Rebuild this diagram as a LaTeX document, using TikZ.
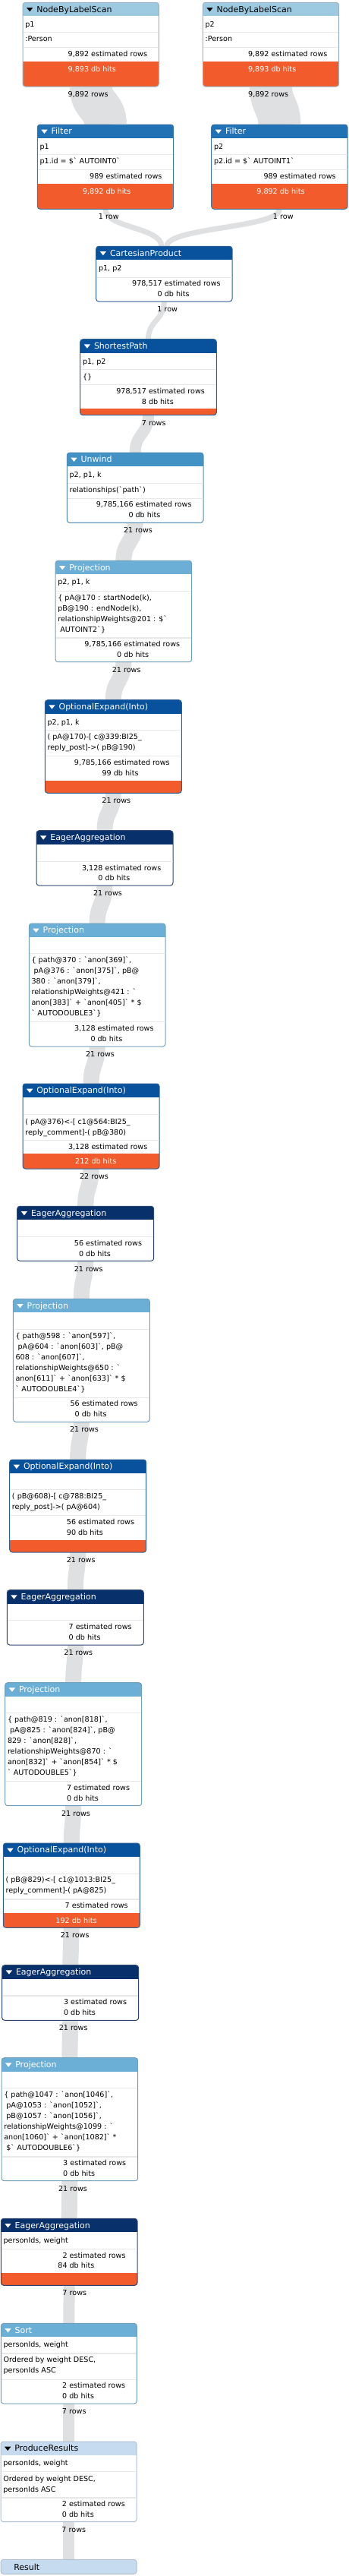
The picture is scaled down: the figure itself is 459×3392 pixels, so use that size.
\documentclass[tikz,border=0pt]{standalone}
\usepackage{fontspec}
\newfontfamily\dvs{DejaVu Sans}
\pgfdeclarelayer{back}
\pgfdeclarelayer{bands}
\pgfsetlayers{back,bands,main}
\definecolor{cNBLS}{HTML}{9ECAE1}
\definecolor{cFilter}{HTML}{2171B5}
\definecolor{cDark}{HTML}{08519C}
\definecolor{cUnwind}{HTML}{4292C6}
\definecolor{cProj}{HTML}{6BAED6}
\definecolor{cEager}{HTML}{08306B}
\definecolor{cLight}{HTML}{C6DBEF}
\definecolor{cCost}{RGB}{242,92,44}
\definecolor{cBand}{RGB}{223,224,226}
\definecolor{cDiv}{RGB}{232,232,232}
\newcommand\bq{\symbol{96}}
\tikzset{
  txt/.style={font=\dvs\fontsize{9.6}{14}\selectfont, inner sep=0pt, outer sep=0pt, text=black},
  ttl/.style={font=\dvs\fontsize{11}{13}\selectfont, inner sep=0pt, outer sep=0pt},
  frame/.style={line width=1pt, rounded corners=3.5pt, inner sep=0pt, outer sep=0pt, anchor=north west},
  divline/.style={draw=cDiv, line width=1.3pt},
  bandst/.style={draw=cBand, line cap=butt},
}
% \opbox{name}{L}{T}{R}{B}{color}{title}{titlecolor}{costtop}
\newcommand\opbox[9]{%
  \begin{scope}
    \clip[rounded corners=3.5pt] (#2,#3) rectangle (#4,#5);
    \fill[white] (#2,#3) rectangle (#4,#5);
    \fill[#6] (#2,#3) rectangle (#4,#3+18);
    \if\relax\detokenize{#9}\relax\else\fill[cCost] (#2,#9) rectangle (#4,#5);\fi
  \end{scope}
  \node[frame, draw=#6!70!gray, minimum width={#4-#2}, minimum height={#5-#3}] (#1) at (#2,#3) {};
  \fill[#8] (#2+5,#3+6.7) -- (#2+13.3,#3+6.7) -- (#2+9.2,#3+12) -- cycle;
  \node[ttl, text=#8, anchor=base west] (#1-title) at (#2+18.3,#3+12.8) {#7};
}
\newcommand\dv[3]{\draw[divline] (#1+0.5,#3) -- (#2-0.5,#3);}
\newcommand\tl[4]{\node[txt, anchor=base west] (#1) at (#2+3.3,#3+3.4) {#4};}
% \st{name}{L}{R}{y}{num}{label}{color}
\newcommand\st[7]{%
  \node[txt, text=#7, anchor=base east] (#1-n) at ({(#2+#3)/2-2.5},{#4+3.4}) {#5};
  \node[txt, text=#7, anchor=base west] (#1-l) at ({(#2+#3)/2+0.5},{#4+3.4}) {#6};
}
\newcommand\rl[4]{\node[txt, anchor=base] (#1) at (#2,#3+3.4) {#4};}
\newcommand\band[5]{\draw[bandst, line width=#5] ([xshift=#2]#1.south) .. controls +(0,25) and +(0,-25) .. ([xshift=#4]#3.north);}
\begin{document}
\begin{tikzpicture}[x=1pt,y=-1pt]
\useasboundingbox (0,0) rectangle (459,3392);
\begin{pgfonlayer}{back}
\fill[white] (0,0) rectangle (459,3392);
\end{pgfonlayer}

% A
\opbox{A}{30}{3.3}{209.3}{114}{cNBLS}{NodeByLabelScan}{black}{81}
\dv{30}{209.3}{42.7}\dv{30}{209.3}{62.7}
\tl{A1}{30}{31.7}{p1}
\tl{A2}{30}{51.3}{:Person}
\st{As}{30}{209.3}{71.3}{9,892}{estimated rows}{black}
\st{Ad}{30}{209.3}{91}{9,893}{db hits}{white}
% B
\opbox{B}{267.3}{3.3}{446.7}{114}{cNBLS}{NodeByLabelScan}{black}{81}
\dv{267.3}{446.7}{42.7}\dv{267.3}{446.7}{62.7}
\tl{B1}{267.3}{31.7}{p2}
\tl{B2}{267.3}{51.3}{:Person}
\st{Bs}{267.3}{446.7}{71.3}{9,892}{estimated rows}{black}
\st{Bd}{267.3}{446.7}{91}{9,893}{db hits}{white}
\rl{lAC}{116.2}{124}{9,892 rows}
\rl{lBD}{353.7}{124}{9,892 rows}
% C
\opbox{C}{49.3}{164}{228.7}{275.3}{cFilter}{Filter}{white}{242}
\dv{49.3}{228.7}{203.3}\dv{49.3}{228.7}{223.3}
\tl{C1}{49.3}{192.7}{p1}
\tl{C2}{49.3}{212}{p1.id = \$\bq{} AUTOINT0\bq}
\st{Cs}{49.3}{228.7}{232}{989}{estimated rows}{black}
\st{Cd}{49.3}{228.7}{252}{9,892}{db hits}{white}
% D
\opbox{D}{278.7}{164}{458}{275.3}{cFilter}{Filter}{white}{242}
\dv{278.7}{458}{203.3}\dv{278.7}{458}{223.3}
\tl{D1}{278.7}{192.7}{p2}
\tl{D2}{278.7}{212}{p2.id = \$\bq{} AUTOINT1\bq}
\st{Ds}{278.7}{458}{232}{989}{estimated rows}{black}
\st{Dd}{278.7}{458}{252}{9,892}{db hits}{white}
\rl{lCE}{143.3}{285.3}{1 row}
\rl{lDE}{373.3}{285.3}{1 row}
% E
\opbox{E}{126.7}{324.3}{306}{397}{cDark}{CartesianProduct}{white}{}
\dv{126.7}{306}{365.3}
\tl{E1}{126.7}{353.3}{p1, p2}
\st{Es}{126.7}{306}{373.3}{978,517}{estimated rows}{black}
\st{Ed}{126.7}{306}{387}{0}{db hits}{black}
\rl{lEF}{220.7}{407.3}{1 row}
% F
\opbox{F}{105.7}{446.7}{285.3}{546.7}{cDark}{ShortestPath}{white}{538.3}
\dv{105.7}{285.3}{486.7}\dv{105.7}{285.3}{506.7}
\tl{F1}{105.7}{475.7}{p1, p2}
\tl{F2}{105.7}{495.7}{\{\}}
\st{Fs}{105.7}{285.3}{515}{978,517}{estimated rows}{black}
\st{Fd}{105.7}{285.3}{529.3}{8}{db hits}{black}
\rl{lFG}{202.7}{557.3}{7 rows}
% G
\opbox{G}{88.3}{596}{268}{688.3}{cUnwind}{Unwind}{white}{}
\dv{88.3}{268}{636.3}\dv{88.3}{268}{656.3}
\tl{G1}{88.3}{625.3}{p2, p1, k}
\tl{G2}{88.3}{645.3}{relationships(\bq path\bq)}
\st{Gs}{88.3}{268}{664.3}{9,785,166}{estimated rows}{black}
\st{Gd}{88.3}{268}{678.3}{0}{db hits}{black}
\rl{lGH}{182}{698.3}{21 rows}
% H
\opbox{H}{73}{738.3}{252.7}{871.7}{cProj}{Projection}{white}{}
\dv{73}{252.7}{778.3}\dv{73}{252.7}{840}
\tl{H1}{73}{766.3}{p2, p1, k}
\tl{H2}{73}{786.7}{\{ pA@170 : startNode(k),}
\tl{H3}{73}{800.7}{pB@190 : endNode(k),}
\tl{H4}{73}{814.7}{relationshipWeights@201 : \$\bq}
\tl{H5}{73}{828.7}{\ AUTOINT2\bq\}}
\st{Hs}{73}{252.7}{848.3}{9,785,166}{estimated rows}{black}
\st{Hd}{73}{252.7}{862.3}{0}{db hits}{black}
\rl{lHI}{166.7}{882.3}{21 rows}
% I
\opbox{I}{59.3}{921.7}{239.3}{1044.3}{cDark}{OptionalExpand(Into)}{white}{1027.7}
\dv{59.3}{239.3}{961.7}\dv{59.3}{239.3}{995.7}
\tl{I1}{59.3}{950.7}{p2, p1, k}
\tl{I2}{59.3}{970.3}{( pA@170)-[ c@339:BI25\_}
\tl{I3}{59.3}{984.3}{reply\_post]->( pB@190)}
\st{Is}{59.3}{239.3}{1004}{9,785,166}{estimated rows}{black}
\st{Id}{59.3}{239.3}{1018.3}{99}{db hits}{black}
\rl{lIJ}{153.3}{1054.3}{21 rows}
% J
\opbox{J}{48}{1093.7}{228}{1166}{cEager}{EagerAggregation}{white}{}
\dv{48}{228}{1134.3}
\st{Js}{48}{228}{1142.7}{3,128}{estimated rows}{black}
\st{Jd}{48}{228}{1156.3}{0}{db hits}{black}
\rl{lJK}{142}{1176.3}{21 rows}
% K
\opbox{K}{38.3}{1216}{218}{1378}{cProj}{Projection}{white}{}
\dv{38.3}{218}{1255.7}\dv{38.3}{218}{1345.7}
\tl{K1}{38.3}{1264.3}{\{ path@370 : \bq anon[369]\bq,}
\tl{K2}{38.3}{1278.3}{\ pA@376 : \bq anon[375]\bq, pB@}
\tl{K3}{38.3}{1292.3}{380 : \bq anon[379]\bq,}
\tl{K4}{38.3}{1306.3}{relationshipWeights@421 : \bq}
\tl{K5}{38.3}{1320.3}{anon[383]\bq{} + \bq anon[405]\bq{} * \$}
\tl{K6}{38.3}{1334.3}{\bq{} AUTODOUBLE3\bq\}}
\st{Ks}{38.3}{218}{1354}{3,128}{estimated rows}{black}
\st{Kd}{38.3}{218}{1368.3}{0}{db hits}{black}
\rl{lKL}{132}{1388.3}{21 rows}
% L
\opbox{L}{30}{1427}{210}{1539}{cDark}{OptionalExpand(Into)}{white}{1519.3}
\dv{30}{210}{1467.3}\dv{30}{210}{1501.7}
\tl{L1}{30}{1477}{( pA@376)<-[ c1@564:BI25\_}
\tl{L2}{30}{1491}{reply\_comment]-( pB@380)}
\st{Ls}{30}{210}{1510.3}{3,128}{estimated rows}{black}
\st{Ld}{30}{210}{1529.3}{212}{db hits}{white}
\rl{lLM}{124}{1549.3}{22 rows}
% M
\opbox{M}{22.7}{1588.3}{202.7}{1660.3}{cEager}{EagerAggregation}{white}{}
\dv{22.7}{202.7}{1628.3}
\st{Ms}{22.7}{202.7}{1637.3}{56}{estimated rows}{black}
\st{Md}{22.7}{202.7}{1651.3}{0}{db hits}{black}
\rl{lMN}{116.7}{1671.3}{21 rows}
% N
\opbox{N}{17.3}{1710.3}{197.3}{1872.3}{cProj}{Projection}{white}{}
\dv{17.3}{197.3}{1750.7}\dv{17.3}{197.3}{1840.7}
\tl{N1}{17.3}{1758.7}{\{ path@598 : \bq anon[597]\bq,}
\tl{N2}{17.3}{1772.7}{\ pA@604 : \bq anon[603]\bq, pB@}
\tl{N3}{17.3}{1786.7}{608 : \bq anon[607]\bq,}
\tl{N4}{17.3}{1800.7}{relationshipWeights@650 : \bq}
\tl{N5}{17.3}{1814.7}{anon[611]\bq{} + \bq anon[633]\bq{} * \$}
\tl{N6}{17.3}{1828.7}{\bq{} AUTODOUBLE4\bq\}}
\st{Ns}{17.3}{197.3}{1848}{56}{estimated rows}{black}
\st{Nd}{17.3}{197.3}{1862.3}{0}{db hits}{black}
\rl{lNO}{111}{1882.3}{21 rows}
% O
\opbox{O}{12.7}{1922}{192.7}{2044}{cDark}{OptionalExpand(Into)}{white}{2028}
\dv{12.7}{192.7}{1961.7}\dv{12.7}{192.7}{1995.7}
\tl{O1}{12.7}{1970.3}{( pB@608)-[ c@788:BI25\_}
\tl{O2}{12.7}{1984.3}{reply\_post]->( pA@604)}
\st{Os}{12.7}{192.7}{2004}{56}{estimated rows}{black}
\st{Od}{12.7}{192.7}{2018.3}{90}{db hits}{black}
\rl{lOP}{106.7}{2054.3}{21 rows}
% P
\opbox{P}{9.3}{2093.7}{189.3}{2166}{cEager}{EagerAggregation}{white}{}
\dv{9.3}{189.3}{2133.7}
\st{Ps}{9.3}{189.3}{2142.3}{7}{estimated rows}{black}
\st{Pd}{9.3}{189.3}{2156.3}{0}{db hits}{black}
\rl{lPQ}{103.3}{2176.3}{21 rows}
% Q
\opbox{Q}{6.7}{2215.7}{186.7}{2377.7}{cProj}{Projection}{white}{}
\dv{6.7}{186.7}{2255.3}\dv{6.7}{186.7}{2345.3}
\tl{Q1}{6.7}{2263.7}{\{ path@819 : \bq anon[818]\bq,}
\tl{Q2}{6.7}{2277.7}{\ pA@825 : \bq anon[824]\bq, pB@}
\tl{Q3}{6.7}{2291.7}{829 : \bq anon[828]\bq,}
\tl{Q4}{6.7}{2305.7}{relationshipWeights@870 : \bq}
\tl{Q5}{6.7}{2319.7}{anon[832]\bq{} + \bq anon[854]\bq{} * \$}
\tl{Q6}{6.7}{2333.7}{\bq{} AUTODOUBLE5\bq\}}
\st{Qs}{6.7}{186.7}{2354}{7}{estimated rows}{black}
\st{Qd}{6.7}{186.7}{2368.3}{0}{db hits}{black}
\rl{lQR}{100}{2388.3}{21 rows}
% R
\opbox{R}{4.3}{2427}{184.3}{2538.3}{cDark}{OptionalExpand(Into)}{white}{2519.3}
\dv{4.3}{184.3}{2467.3}\dv{4.3}{184.3}{2501}
\tl{R1}{4.3}{2475.3}{( pB@829)<-[ c1@1013:BI25\_}
\tl{R2}{4.3}{2489.3}{reply\_comment]-( pA@825)}
\st{Rs}{4.3}{184.3}{2509.3}{7}{estimated rows}{black}
\st{Rd}{4.3}{184.3}{2529.3}{192}{db hits}{white}
\rl{lRS}{98.7}{2548.3}{21 rows}
% S
\opbox{S}{2.7}{2587.7}{182.7}{2660.3}{cEager}{EagerAggregation}{white}{}
\dv{2.7}{182.7}{2628}
\st{Ss}{2.7}{182.7}{2636.3}{3}{estimated rows}{black}
\st{Sd}{2.7}{182.7}{2650.3}{0}{db hits}{black}
\rl{lST}{96.7}{2670.3}{21 rows}
% T
\opbox{T}{2}{2709.7}{181.7}{2871.7}{cProj}{Projection}{white}{}
\dv{2}{181.7}{2749.3}\dv{2}{181.7}{2840}
\tl{T1}{2}{2758.3}{\{ path@1047 : \bq anon[1046]\bq,}
\tl{T2}{2}{2772.3}{\ pA@1053 : \bq anon[1052]\bq,}
\tl{T3}{2}{2786.3}{\ pB@1057 : \bq anon[1056]\bq,}
\tl{T4}{2}{2800.3}{relationshipWeights@1099 : \bq}
\tl{T5}{2}{2814.3}{anon[1060]\bq{} + \bq anon[1082]\bq{} *}
\tl{T6}{2}{2828.3}{\ \$\bq{} AUTODOUBLE6\bq\}}
\st{Ts}{2}{181.7}{2847.7}{3}{estimated rows}{black}
\st{Td}{2}{181.7}{2862.3}{0}{db hits}{black}
\rl{lTU}{96}{2882.3}{21 rows}
% U
\opbox{U}{1.3}{2921.3}{181}{3009.3}{cEager}{EagerAggregation}{white}{2993.3}
\dv{1.3}{181}{2961.3}
\tl{U1}{1.3}{2950.3}{personIds, weight}
\st{Us}{1.3}{181}{2970}{2}{estimated rows}{black}
\st{Ud}{1.3}{181}{2983.3}{84}{db hits}{black}
\rl{lUV}{98.3}{3019.3}{7 rows}
% V
\opbox{V}{1.3}{3059.3}{180.3}{3165}{cProj}{Sort}{white}{}
\dv{1.3}{180.3}{3099}\dv{1.3}{180.3}{3133.3}
\tl{V1}{1.3}{3087.3}{personIds, weight}
\tl{V2}{1.3}{3107.3}{Ordered by weight DESC,}
\tl{V3}{1.3}{3121.3}{personIds ASC}
\st{Vs}{1.3}{180.3}{3141.3}{2}{estimated rows}{black}
\st{Vd}{1.3}{180.3}{3155.3}{0}{db hits}{black}
\rl{lVW}{97.7}{3175.3}{7 rows}
% W
\opbox{W}{1}{3215}{180}{3320.7}{cLight}{ProduceResults}{black}{}
\dv{1}{180}{3254.7}\dv{1}{180}{3289}
\tl{W1}{1}{3243.3}{personIds, weight}
\tl{W2}{1}{3263.7}{Ordered by weight DESC,}
\tl{W3}{1}{3277.7}{personIds ASC}
\st{Ws}{1}{180}{3297.3}{2}{estimated rows}{black}
\st{Wd}{1}{180}{3311}{0}{db hits}{black}
\rl{lWX}{97.3}{3331.3}{7 rows}
% X
\node[frame, draw=cLight!70!gray, fill=cLight, minimum width=179, minimum height=19] (X) at (1,3370.3) {};
\node[ttl, anchor=base west] (X-title) at (18.3,3384.3) {Result};

\begin{pgfonlayer}{bands}
\band{A}{0pt}{C}{0pt}{56pt}
\band{B}{0pt}{D}{0pt}{56pt}
\band{C}{0pt}{E}{-3.5pt}{7pt}
\band{D}{0pt}{E}{3.5pt}{7pt}
\band{E}{0pt}{F}{0pt}{7pt}
\band{F}{0pt}{G}{0pt}{15pt}
\band{G}{0pt}{H}{0pt}{21pt}
\band{H}{0pt}{I}{0pt}{21pt}
\band{I}{0pt}{J}{0pt}{21pt}
\band{J}{0pt}{K}{0pt}{21pt}
\band{K}{0pt}{L}{0pt}{21pt}
\band{L}{0pt}{M}{0pt}{21.3pt}
\band{M}{0pt}{N}{0pt}{21pt}
\band{N}{0pt}{O}{0pt}{21pt}
\band{O}{0pt}{P}{0pt}{21pt}
\band{P}{0pt}{Q}{0pt}{21pt}
\band{Q}{0pt}{R}{0pt}{21pt}
\band{R}{0pt}{S}{0pt}{21pt}
\band{S}{0pt}{T}{0pt}{21pt}
\band{T}{0pt}{U}{0pt}{21pt}
\band{U}{0pt}{V}{0pt}{15pt}
\band{V}{0pt}{W}{0pt}{15pt}
\band{W}{0pt}{X}{0pt}{15pt}
\end{pgfonlayer}
\end{tikzpicture}
\end{document}
